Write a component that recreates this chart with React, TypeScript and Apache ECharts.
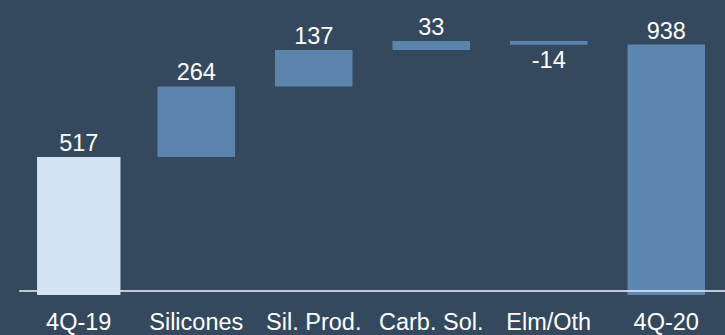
import React, { useEffect, useRef } from "react";
import * as echarts from "echarts";

// Waterfall bridge from 4Q-19 to 4Q-20
const categories = ["4Q-19", "Silicones", "Sil. Prod.", "Carb. Sol.", "Elm/Oth", "4Q-20"];
const changes = [517, 264, 137, 33, -14, 938];
// "open" and "close" are totals drawn from zero, "step" bars float on the running total
const kinds = ["open", "step", "step", "step", "step", "close"];

const FONT = '"Liberation Sans", Arial, sans-serif';
const BG = "#34495e";
const COLORS: Record<string, string> = {
  open: "#d3e5f5",
  step: "#5b84ad",
  close: "#5d86b0",
};

function buildRows() {
  let running = 0;
  return changes.map((v, i) => {
    const kind = kinds[i];
    if (kind === "step") {
      const start = running;
      running += v;
      return [i, Math.min(start, running), Math.max(start, running), v];
    }
    running = v;
    return [i, 0, v, v];
  });
}

export default function App() {
  const ref = useRef<HTMLDivElement>(null);

  useEffect(() => {
    if (!ref.current) return;
    const chart = echarts.init(ref.current, undefined, { renderer: "svg" });
    const rows = buildRows();

    chart.setOption({
      animation: false,
      backgroundColor: BG,
      grid: { left: 20, top: 28, bottom: 40, width: 710 },
      xAxis: {
        type: "category",
        data: categories,
        offset: -4,
        z: 10,
        axisTick: { show: false },
        axisLine: { lineStyle: { color: "rgba(218,224,230,0.85)", width: 2 } },
        axisLabel: {
          color: "#ffffff",
          fontSize: 23.5,
          fontFamily: FONT,
          margin: 19,
          interval: 0,
        },
      },
      yAxis: {
        type: "value",
        show: false,
        min: 0,
        max: 1000,
        splitLine: { show: false },
      },
      series: [
        {
          type: "custom",
          data: rows,
          encode: { x: 0, y: [1, 2] },
          renderItem: (params: any, api: any) => {
            const idx = api.value(0);
            const low = api.value(1);
            const high = api.value(2);
            const value = api.value(3);
            const kind = kinds[idx];
            const band = api.size([1, 0])[0];
            const w = band * (kind === "open" ? 0.71 : 0.66);
            const top = api.coord([idx, high]);
            const bottom = api.coord([idx, low]);
            const x = top[0] - w / 2;
            const h = Math.max(bottom[1] - top[1], 1);
            const below = value < 0;
            return {
              type: "group",
              children: [
                {
                  type: "rect",
                  shape: { x, y: top[1], width: w, height: h },
                  style: { fill: COLORS[kind] },
                },
                {
                  type: "text",
                  style: {
                    text: String(value),
                    x: top[0],
                    y: below ? top[1] + h + 3 : top[1] - 2,
                    fill: "#ffffff",
                    fontSize: 23.5,
                    fontFamily: FONT,
                    align: "center",
                    verticalAlign: below ? "top" : "bottom",
                  },
                },
              ],
            };
          },
        },
      ],
    });

    return () => chart.dispose();
  }, []);

  return (
    <div
      ref={ref}
      style={{ position: "fixed", left: 0, top: 0, width: 725, height: 335 }}
    />
  );
}
